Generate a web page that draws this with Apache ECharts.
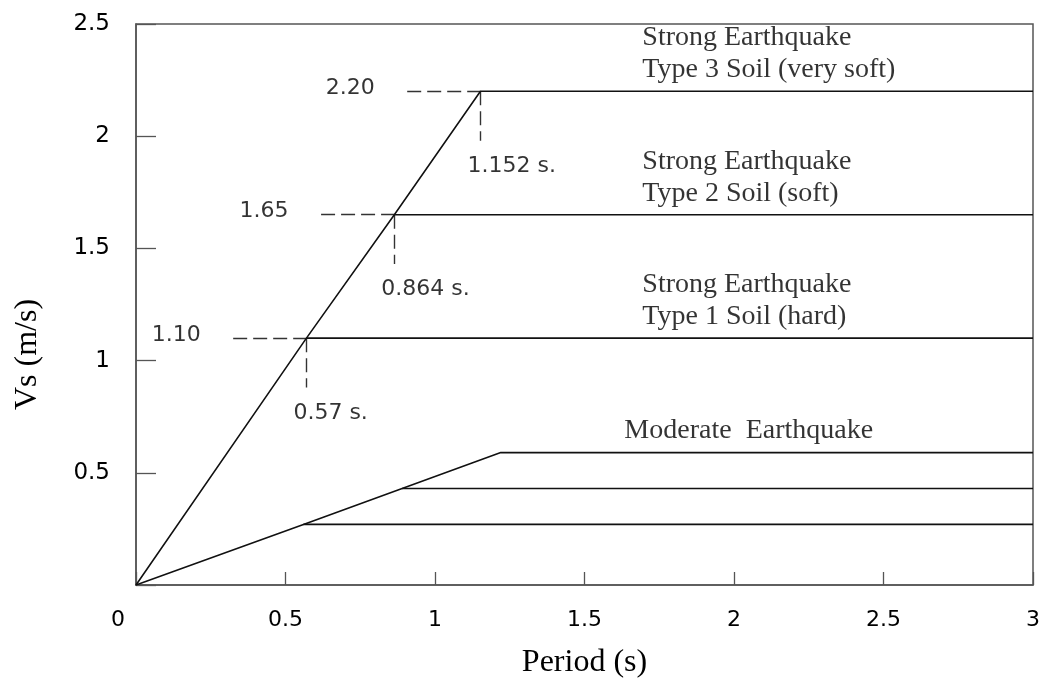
<!DOCTYPE html>
<html>
<head>
<meta charset="utf-8">
<script src="https://cdn.jsdelivr.net/npm/echarts@6/dist/echarts.min.js"></script>
<style>
  html, body { margin: 0; padding: 0; background: #fff; }
  #chart { width: 1044px; height: 678px; }
</style>
</head>
<body>
<div id="chart"></div>
<script>
// Strong earthquake: corner period (s) and plateau velocity (m/s) for each soil type
const strongPeriods = [0.57, 0.864, 1.152];
const strongVs = [1.10, 1.65, 2.20];
const strongNotes = [
  'Strong Earthquake\nType 1 Soil (hard)',
  'Strong Earthquake\nType 2 Soil (soft)',
  'Strong Earthquake\nType 3 Soil (very soft)'
];

// Moderate earthquake: corner periods and plateau velocities
const moderatePeriods = [0.56, 0.89, 1.22];
const moderateVs = [0.27, 0.43, 0.59];
const moderateNote = 'Moderate  Earthquake';

// Axis extents and tick step
const xRange = [0, 3];
const yRange = [0, 2.5];
const tickStep = 0.5;

// Layout helpers (in axis units)
const LEAD_DX = 0.245;   // length of horizontal dashed leader
const LEAD_DY = 0.22;    // length of vertical dashed leader
const NOTE_X = 1.695;    // left edge of the strong-earthquake notes
const MOD_NOTE_X = 1.635;

const SANS = '"DejaVu Sans", sans-serif';
const SERIF = '"Liberation Serif", "Times New Roman", serif';
const INK = '#000';
const FRAME = '#555';

const xEnd = xRange[1];
const lineStyle = { color: '#111', width: 1.6 };

function envelope(periods, vs) {
  const pts = [[0, 0]];
  periods.forEach((t, i) => pts.push([t, vs[i]]));
  pts.push([xEnd, vs[vs.length - 1]]);
  return pts;
}

const series = [];

// rising branch through every corner, then the top plateau
series.push({
  type: 'line', data: envelope(strongPeriods, strongVs),
  symbol: 'none', lineStyle, silent: true
});
series.push({
  type: 'line', data: envelope(moderatePeriods, moderateVs),
  symbol: 'none', lineStyle, silent: true
});

// lower plateaus
[[strongPeriods, strongVs], [moderatePeriods, moderateVs]].forEach(([ps, vs]) => {
  ps.slice(0, -1).forEach((t, i) => {
    series.push({
      type: 'line', data: [[t, vs[i]], [xEnd, vs[i]]],
      symbol: 'none', lineStyle, silent: true
    });
  });
});

// dashed leaders from each strong corner
const leaders = [];
strongPeriods.forEach((t, i) => {
  const v = strongVs[i];
  leaders.push({ coords: [[t - LEAD_DX, v], [t, v]] });
  leaders.push({ coords: [[t, v], [t, v - LEAD_DY]] });
});
series.push({
  type: 'lines', coordinateSystem: 'cartesian2d', data: leaders,
  lineStyle: { color: '#333', width: 1.4, type: [14, 6], opacity: 1 },
  silent: true
});

const hidden = { color: 'rgba(0,0,0,0)' };

// velocity values at the left end of the leaders
series.push({
  type: 'scatter', symbolSize: 1, itemStyle: hidden, silent: true,
  data: strongPeriods.map((t, i) => [t - LEAD_DX, strongVs[i]]),
  label: {
    show: true, position: 'left', distance: 32, offset: [0, -3],
    formatter: p => p.value[1].toFixed(2),
    fontFamily: SANS, fontSize: 22, color: INK
  }
});

// periods below the vertical leaders
series.push({
  type: 'scatter', symbolSize: 1, itemStyle: hidden, silent: true,
  data: strongPeriods.map((t, i) => [t, strongVs[i] - LEAD_DY]),
  label: {
    show: true, position: 'bottom', distance: 14, align: 'left', offset: [-13, 0],
    formatter: p => p.value[0] + ' s.',
    fontFamily: SANS, fontSize: 22, color: INK
  }
});

// notes above each plateau
const noteLabel = {
  show: true, position: [0, 0], align: 'left', verticalAlign: 'bottom',
  offset: [0, -5], formatter: p => p.name,
  fontFamily: SERIF, fontSize: 28, lineHeight: 32, color: INK
};
series.push({
  type: 'scatter', symbolSize: 1, itemStyle: hidden, silent: true,
  data: strongVs.map((v, i) => ({ name: strongNotes[i], value: [NOTE_X, v] }))
    .concat([{ name: moderateNote, value: [MOD_NOTE_X, moderateVs[moderateVs.length - 1]] }]),
  label: noteLabel
});

const chart = echarts.init(document.getElementById('chart'));
chart.setOption({
  animation: false,
  backgroundColor: '#fff',
  grid: {
    left: 136, right: 11, top: 24, bottom: 93,
    outerBoundsMode: 'none', containLabel: false,
    show: true, borderColor: FRAME, borderWidth: 1.5, backgroundColor: 'transparent'
  },
  xAxis: {
    type: 'value', min: xRange[0], max: xRange[1], interval: tickStep,
    name: 'Period (s)', nameLocation: 'middle', nameGap: 62,
    nameTextStyle: { fontFamily: SERIF, fontSize: 32, color: INK },
    axisLine: { show: true, lineStyle: { color: FRAME, width: 1.5 } },
    axisTick: { show: true, inside: true, length: 13, lineStyle: { color: FRAME, width: 1.3 } },
    splitLine: { show: false },
    axisLabel: {
      margin: 24, fontFamily: SANS, fontSize: 22, color: INK,
      formatter: v => (v === 0 ? '{z|0}' : String(v)),
      rich: { z: { fontFamily: SANS, fontSize: 22, color: INK, padding: [0, 36, 0, 0] } }
    }
  },
  yAxis: {
    type: 'value', min: yRange[0], max: yRange[1], interval: tickStep,
    name: 'Vs (m/s)', nameLocation: 'middle', nameGap: 92,
    nameTextStyle: { fontFamily: SERIF, fontSize: 32, color: INK, padding: [0, 100, 0, 0] },
    axisLine: { show: true, lineStyle: { color: FRAME, width: 1.5 } },
    axisTick: { show: true, inside: true, length: 20, lineStyle: { color: FRAME, width: 1.3 } },
    splitLine: { show: false },
    axisLabel: {
      margin: 26, fontFamily: SANS, fontSize: 23, color: INK,
      formatter: v => (v === 0 ? '' : String(v))
    }
  },
  series
});
</script>
</body>
</html>
